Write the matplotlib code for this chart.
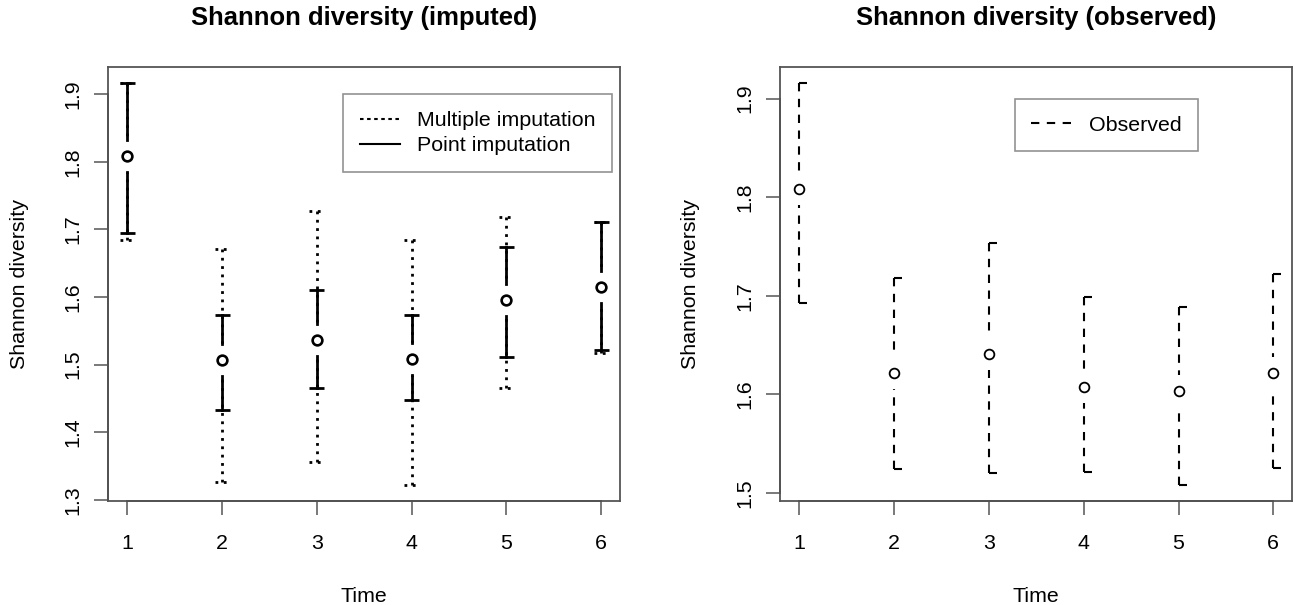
import matplotlib
matplotlib.use("Agg")
import matplotlib.pyplot as plt
from matplotlib.lines import Line2D

plt.rcParams['font.family'] = ['Liberation Sans', 'DejaVu Sans']

# values
time = [1, 2, 3, 4, 5, 6]

imp_mean = [1.808, 1.507, 1.537, 1.509, 1.595, 1.615]
mi_lower = [1.684, 1.327, 1.356, 1.322, 1.466, 1.517]
mi_upper = [1.917, 1.671, 1.727, 1.685, 1.719, 1.711]
pi_lower = [1.694, 1.433, 1.466, 1.447, 1.511, 1.521]
pi_upper = [1.917, 1.573, 1.611, 1.573, 1.674, 1.711]

obs_mean = [1.808, 1.622, 1.641, 1.607, 1.603, 1.622]
obs_lower = [1.693, 1.524, 1.520, 1.521, 1.508, 1.525]
obs_upper = [1.916, 1.718, 1.753, 1.699, 1.689, 1.722]

yticks_imp = [1.3, 1.4, 1.5, 1.6, 1.7, 1.8, 1.9]
yticks_obs = [1.5, 1.6, 1.7, 1.8, 1.9]

FW, FH = 1295, 605
FS = 15.4
BOX = '#555555'

fig = plt.figure(figsize=(FW / 100, FH / 100), dpi=100)
ax1 = fig.add_axes([108.3 / FW, 1 - 501 / FH, 511.7 / FW, 434.3 / FH])
ax2 = fig.add_axes([780.3 / FW, 1 - 501 / FH, 512 / FW, 434.3 / FH])


def rlim(lo, hi):
    r = hi - lo
    return lo - 0.04 * r, hi + 0.04 * r


def px2x(ax, px):
    x0, x1 = ax.get_xlim()
    return px * (x1 - x0) / (ax.get_position().width * FW)


def px2y(ax, px):
    y0, y1 = ax.get_ylim()
    return px * (y1 - y0) / (ax.get_position().height * FH)


def ci_bars(ax, x, y, lo, hi, ls, lw, half_cap=False):
    # R plotCI style: bars drawn from the ends towards the point, gap around it
    gap = px2y(ax, 16)
    cw = px2x(ax, 8 if half_cap else 7.5)
    for xi, yi, l, h in zip(x, y, lo, hi):
        if h > yi + gap:
            ax.plot([xi, xi], [h, yi + gap], color='black', lw=lw, ls=ls)
        if l < yi - gap:
            ax.plot([xi, xi], [l, yi - gap], color='black', lw=lw, ls=ls)
        for e in (l, h):
            if half_cap:
                ax.plot([xi, xi + cw], [e, e], color='black', lw=lw,
                        solid_capstyle='butt')
            else:
                ax.plot([xi - cw, xi + cw], [e, e], color='black', lw=lw, ls=ls,
                        solid_capstyle='butt')


def style_axes(ax, yticks):
    ax.set_xlim(0.8, 6.2)
    ax.set_xticks(time)
    ax.set_xticklabels([str(t) for t in time])
    ax.set_yticks(yticks)
    ax.set_yticklabels([f"{v:.1f}" for v in yticks])
    for s in ax.spines.values():
        s.set_color(BOX)
        s.set_linewidth(1.3)
    ax.tick_params(axis='both', direction='out', length=10, width=1.1,
                   color=BOX, labelsize=FS)
    ax.tick_params(axis='x', pad=14)
    ax.tick_params(axis='y', pad=9)
    for lab in ax.get_yticklabels():
        lab.set_rotation(90)
        lab.set_va('center')
    y0 = ax.get_ylim()[0]
    x0 = ax.get_xlim()[0]
    ax.plot([time[0], time[-1]], [y0, y0], color='#333333', lw=1.3, clip_on=False)
    ax.plot([x0, x0], [yticks[0], yticks[-1]], color='#333333', lw=1.3, clip_on=False)


# ---- left: imputed ----
ax1.set_xlim(0.8, 6.2)
ax1.set_ylim(*rlim(min(mi_lower), max(mi_upper)))
ci_bars(ax1, time, imp_mean, mi_lower, mi_upper, (0, (1, 2)), 2.0)
ci_bars(ax1, time, imp_mean, pi_lower, pi_upper, '-', 2.0)
ax1.plot(time, imp_mean, 'o', ms=7, mfc='none', mec='black', mew=1.9)
style_axes(ax1, yticks_imp)

h1 = [Line2D([], [], color='black', lw=1.5, ls=(0, (1.7, 1.7))),
      Line2D([], [], color='black', lw=1.5)]
leg1 = ax1.legend(h1, ['Multiple imputation', 'Point imputation'],
                  loc='upper right', bbox_to_anchor=(0.9844, 0.9364),
                  borderaxespad=0, fontsize=FS, fancybox=False,
                  borderpad=0.78, handlelength=1.87, handletextpad=0.81,
                  labelspacing=0.3)
leg1.get_frame().set_edgecolor('#777777')
leg1.get_frame().set_linewidth(1.2)

# ---- right: observed ----
ax2.set_xlim(0.8, 6.2)
ax2.set_ylim(*rlim(min(obs_lower), max(obs_upper)))
ci_bars(ax2, time, obs_mean, obs_lower, obs_upper, (0, (4, 3.6)), 1.5, half_cap=True)
ax2.plot(time, obs_mean, 'o', ms=7, mfc='none', mec='black', mew=1.3)
style_axes(ax2, yticks_obs)

h2 = [Line2D([], [], color='black', lw=1.5, ls=(0, (4, 3.6)))]
leg2 = ax2.legend(h2, ['Observed'], loc='upper right',
                  bbox_to_anchor=(0.8158, 0.9257), borderaxespad=0,
                  fontsize=FS, fancybox=False, borderpad=0.78,
                  handlelength=1.87, handletextpad=0.81)
leg2.get_frame().set_edgecolor('#777777')
leg2.get_frame().set_linewidth(1.2)

# titles and axis labels (R margin placement)
for ax, title, ylx in [(ax1, 'Shannon diversity (imputed)', 20),
                       (ax2, 'Shannon diversity (observed)', 690)]:
    p = ax.get_position()
    cx = p.x0 + p.width / 2
    cy = p.y0 + p.height / 2
    fig.text(cx, 1 - 25.5 / FH, title, ha='center', va='baseline',
             fontsize=FS * 1.2, fontweight='bold')
    fig.text(cx, 1 - 602 / FH, 'Time', ha='center', va='baseline', fontsize=FS)
    fig.text(ylx / FW, cy, 'Shannon diversity', ha='center', va='center',
             rotation=90, fontsize=FS)

fig.savefig('out.png', dpi=100)
